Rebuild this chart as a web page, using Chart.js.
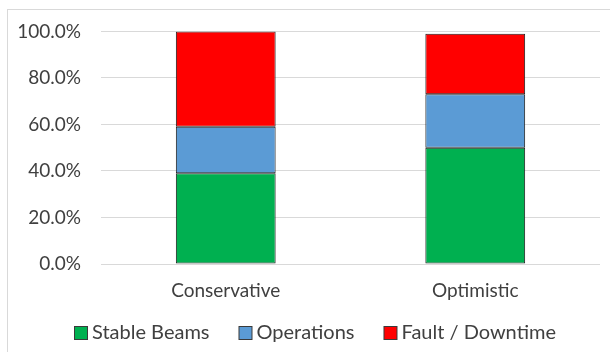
<!DOCTYPE html>
<html>
<head>
<meta charset="utf-8">
<script src="https://cdn.jsdelivr.net/npm/chart.js@4.4.1/dist/chart.umd.min.js"></script>
<style>
  html, body { margin: 0; padding: 0; background: #ffffff; overflow: hidden; }
  #wrap { position: relative; width: 610px; height: 352px; }
  #frame { position: absolute; left: 7px; top: 9px; width: 700px; height: 500px;
           border: 1px solid #d9d9d9; box-sizing: border-box; }
  #c { position: absolute; left: 0; top: 0; }
</style>
</head>
<body>
<div id="wrap">
  <div id="frame"></div>
  <canvas id="c" width="610" height="352"></canvas>
</div>
<script>
// Scenario shares of running time (percent)
const scenarios = ['Conservative', 'Optimistic'];
const stableBeams = [39, 50];
const operations = [20, 23];
const faultDowntime = [41, 26];
const yTicks = [0, 20, 40, 60, 80, 100];

const FONT = 'Lato, "Open Sans", sans-serif';
const TEXT = '#404040';
const OUTLINE = '#1e1e1e';

const ds = (label, data, color) => ({
  label, data,
  backgroundColor: color,
  borderColor: OUTLINE,
  borderWidth: 1,
  borderSkipped: false,
  categoryPercentage: 1,
  barPercentage: 0.4
});

// Legend row under the category labels: square swatch, short gap, label.
const bottomLegend = {
  id: 'bottomLegend',
  afterDraw(chart) {
    const ctx = chart.ctx;
    const box = 14, gap = 4, spacing = 29;
    const centerX = 315, baseline = 339;
    ctx.save();
    ctx.font = '20px ' + FONT;
    const items = chart.data.datasets.map(d => ({
      text: d.label, color: d.backgroundColor, w: ctx.measureText(d.label).width
    }));
    const total = items.reduce((s, it) => s + box + gap + it.w, 0) + spacing * (items.length - 1);
    let x = Math.round(centerX - total / 2);
    items.forEach(it => {
      ctx.fillStyle = it.color;
      ctx.fillRect(x + 0.5, baseline - 13 + 0.5, box - 1, box - 1);
      ctx.strokeStyle = '#3a3a3a';
      ctx.lineWidth = 1;
      ctx.strokeRect(x + 0.5, baseline - 13 + 0.5, box - 1, box - 1);
      ctx.fillStyle = TEXT;
      ctx.textBaseline = 'alphabetic';
      ctx.textAlign = 'left';
      ctx.fillText(it.text, x + box + gap, baseline);
      x += box + gap + it.w + spacing;
    });
    ctx.restore();
  }
};

new Chart(document.getElementById('c'), {
  type: 'bar',
  data: {
    labels: scenarios,
    datasets: [
      ds('Stable Beams', stableBeams, '#00b050'),
      ds('Operations', operations, '#5b9bd5'),
      ds('Fault / Downtime', faultDowntime, '#ff0000')
    ]
  },
  plugins: [bottomLegend],
  options: {
    responsive: false,
    animation: false,
    devicePixelRatio: 1,
    layout: { padding: { left: 0, right: 10, top: 30, bottom: 0 } },
    plugins: {
      tooltip: { enabled: false },
      legend: { display: false }
    },
    scales: {
      x: {
        stacked: true,
        grid: { display: false, drawTicks: false },
        border: { display: false },
        ticks: { color: TEXT, font: { family: FONT, size: 19 }, padding: 15 },
        afterFit: (s) => { s.height = 88; }
      },
      y: {
        stacked: true,
        min: 0,
        max: 100,
        afterBuildTicks: (s) => { s.ticks = yTicks.map(v => ({ value: v })); },
        grid: { color: '#d9d9d9', lineWidth: 1, drawTicks: false },
        border: { display: false },
        ticks: {
          color: TEXT,
          font: { family: FONT, size: 19 },
          padding: 20,
          callback: (v) => v.toFixed(1) + '%'
        },
        afterFit: (s) => { s.width = 101; }
      }
    }
  }
});
</script>
</body>
</html>
